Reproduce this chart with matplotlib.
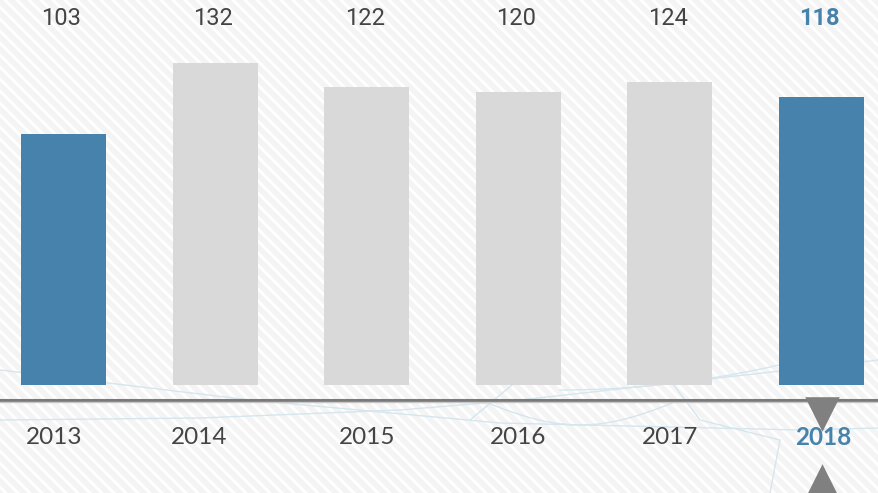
import numpy as np
import matplotlib
matplotlib.use("Agg")
import matplotlib.pyplot as plt

years = ["2013", "2014", "2015", "2016", "2017", "2018"]
values = [103, 132, 122, 120, 124, 118]
highlight = [True, False, False, False, False, True]
# small horizontal nudges (px) of the year labels, as in the original layout
year_nudge = [-9.5, -16, 0, 0, 0, 1.5]

BLUE = "#4682ab"
GREY = "#d9d9d9"
TEXT = "#444444"

W, H = 879, 493
fig = plt.figure(figsize=(W / 100, H / 100), dpi=100)

# background: diagonal stripes + faint decorative lines
bg = fig.add_axes([0, 0, 1, 1])
bg.set_xlim(0, W)
bg.set_ylim(H, 0)
bg.axis("off")
bg.set_facecolor("white")
for c in np.arange(-H, W + H, 12):
    bg.plot([c, c + H], [0, H], color="#f4f4f4", lw=4, zorder=0)
lc = "#d5e6ee"
bg.plot([0, 200, 400, 520, 700, 879], [420, 418, 410, 400, 380, 360], color=lc, lw=1, zorder=1)
bg.plot([0, 250, 500, 800, 879], [370, 400, 423, 430, 428], color=lc, lw=1, zorder=1)
t = np.linspace(0, 1, 50)
bg.plot(480 + 200 * t, 400 + 25 * np.sin(np.pi * t), color=lc, lw=1, zorder=1)
bg.plot(470 + 60 * t, 420 - 50 * t, color=lc, lw=1, zorder=1)
bg.plot([640, 700, 780, 770], [340, 420, 440, 493], color=lc, lw=1, zorder=1)
bg.plot(560 + 240 * t, 390 - 30 * t ** 2, color=lc, lw=1, zorder=1)

ax = fig.add_axes([0, 0, 1, 1])
ax.patch.set_alpha(0)
ax.axis("off")
step = 151.6
ppu = 2.44
base = 108
ax.set_xlim(-63.5 / step, (W - 63.5) / step)
ax.set_ylim(-base / ppu, (H - base) / ppu)

x = np.arange(len(years))
colors = [BLUE if h else GREY for h in highlight]
ax.bar(x, values, width=85 / step, color=colors, zorder=3)

ax.axhline(-6.1, color="#7a7a7a", lw=2.2, zorder=4)
ax.axhline(-6.9, color="#c8c8c8", lw=1, zorder=4)

for i, (yr, v, dx) in enumerate(zip(years, values, year_nudge)):
    is_last = i == len(years) - 1
    col = BLUE if is_last else TEXT
    wt = "bold" if is_last else "normal"
    ax.text(i - 2 / step, 150.4, str(v), ha="center", va="center", fontsize=17,
            color=col, fontweight=wt, family="Roboto", zorder=5)
    ax.text(i + dx / step, -21.7, yr, ha="center", va="center", fontsize=17.5,
            color=col, fontweight=wt, family="Lato", zorder=5)

last = len(years) - 1
ax.scatter([last], [-11.9], marker="v", s=620, color="#808080", zorder=5, linewidths=0)
ax.scatter([last], [-39.5], marker="^", s=620, color="#808080", zorder=5, linewidths=0)

fig.savefig("out.png", dpi=100)
